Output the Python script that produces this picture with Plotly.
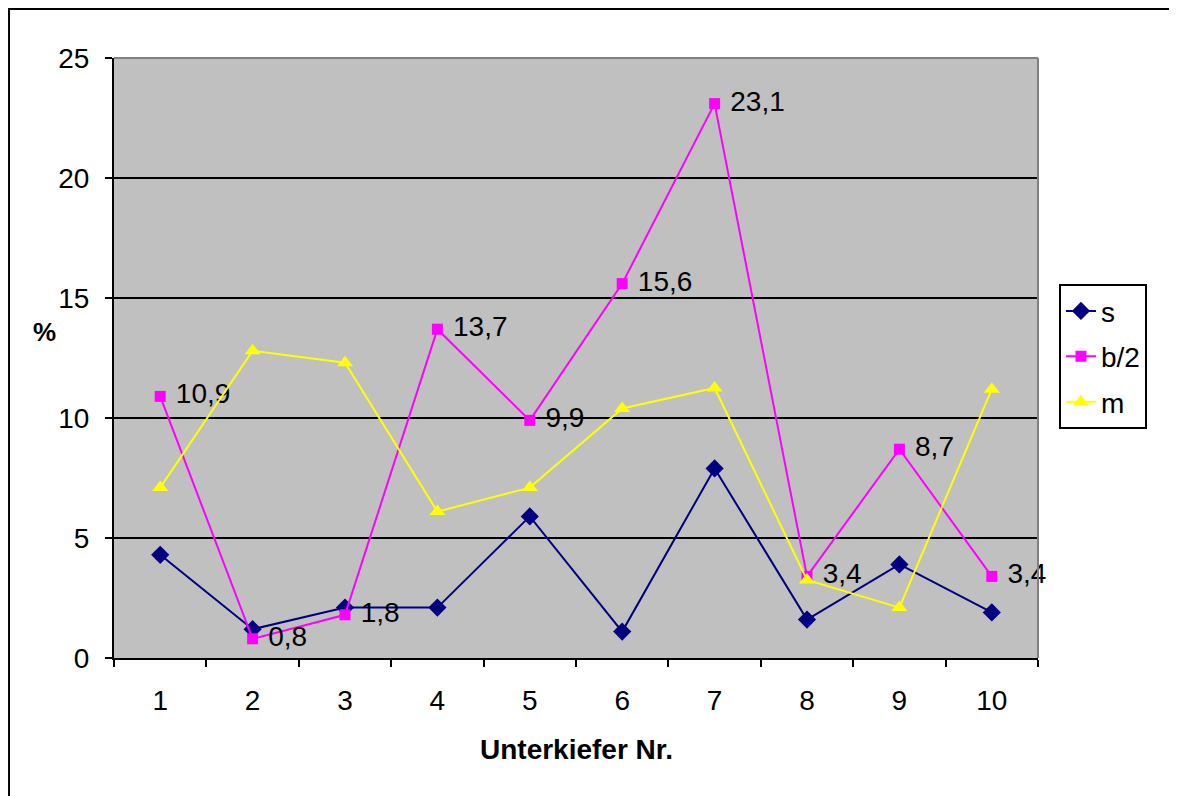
import plotly.graph_objects as go

categories = ["1", "2", "3", "4", "5", "6", "7", "8", "9", "10"]
s_values = [4.3, 1.2, 2.1, 2.1, 5.9, 1.1, 7.9, 1.6, 3.9, 1.9]
b2_values = [10.9, 0.8, 1.8, 13.7, 9.9, 15.6, 23.1, 3.4, 8.7, 3.4]
m_values = [7.1, 12.8, 12.3, 6.1, 7.1, 10.4, 11.25, 3.25, 2.1, 11.2]
b2_labels = ["10,9", "0,8", "1,8", "13,7", "9,9", "15,6", "23,1", "3,4", "8,7", "3,4"]
y_ticks = [0, 5, 10, 15, 20, 25]

FONT = "Liberation Sans, Arial, sans-serif"
FS = 28

fig = go.Figure()
fig.add_trace(go.Scatter(
    x=categories, y=s_values, name="s", mode="lines+markers", legendgroup="a",
    line=dict(color="#000080", width=2),
    marker=dict(symbol="diamond", size=14, color="#000080"),
))
fig.add_trace(go.Scatter(
    x=categories, y=b2_values, name="b/2", mode="lines+markers+text", legendgroup="b",
    line=dict(color="#FF00FF", width=2),
    marker=dict(symbol="square", size=11, color="#FF00FF"),
    text=[" " + t for t in b2_labels], textposition="middle right",
    textfont=dict(family=FONT, size=FS, color="black"),
    cliponaxis=False,
))
fig.add_trace(go.Scatter(
    x=categories, y=m_values, name="m", mode="lines+markers", legendgroup="c",
    line=dict(color="#FFFF00", width=2),
    marker=dict(symbol="triangle-up", size=14, color="#FFFF00"),
))

fig.update_layout(
    width=1169, height=788,
    margin=dict(l=106, r=139, t=50, b=138),
    paper_bgcolor="white",
    plot_bgcolor="#C0C0C0",
    font=dict(family=FONT, size=FS, color="black"),
    showlegend=True,
    legend=dict(
        x=1.0227, y=0.623, xanchor="left", yanchor="top",
        bgcolor="white", bordercolor="black", borderwidth=2,
        font=dict(family=FONT, size=FS, color="black"),
        tracegroupgap=6,
    ),
    xaxis=dict(
        type="category", tickson="boundaries",
        showline=True, linecolor="black", linewidth=2,
        ticks="outside", ticklen=7, tickwidth=2, tickcolor="black",
        showgrid=False, ticklabelstandoff=16,
        tickfont=dict(family=FONT, size=FS, color="black"),
        range=[-0.5, 9.5],
    ),
    yaxis=dict(
        range=[0, 25], tickvals=y_ticks,
        showline=True, linecolor="black", linewidth=2,
        ticks="outside", ticklen=7, tickwidth=2, tickcolor="black",
        showgrid=True, gridcolor="black", gridwidth=2,
        zeroline=False, ticklabelstandoff=10,
        tickfont=dict(family=FONT, size=FS, color="black"),
    ),
    shapes=[
        dict(type="line", xref="paper", yref="paper", x0=0, x1=1, y0=1, y1=1,
             line=dict(color="#808080", width=2)),
        dict(type="line", xref="paper", yref="paper", x0=1, x1=1, y0=0, y1=1,
             line=dict(color="#808080", width=2)),
        dict(type="rect", xref="paper", yref="paper", x0=-0.1136, x1=1.2, y0=-0.3, y1=1.0817,
             line=dict(color="black", width=2)),
    ],
    annotations=[
        dict(text="<b>%</b>", xref="paper", yref="paper", x=-0.0747, y=0.543,
             showarrow=False, xanchor="center", yanchor="middle",
             font=dict(family=FONT, size=26, color="black")),
        dict(text="<b>Unterkiefer Nr.</b>", xref="paper", yref="paper", x=0.5, y=-0.153,
             showarrow=False, xanchor="center", yanchor="middle",
             font=dict(family=FONT, size=FS, color="black")),
    ],
)

fig.write_html("out.html")
